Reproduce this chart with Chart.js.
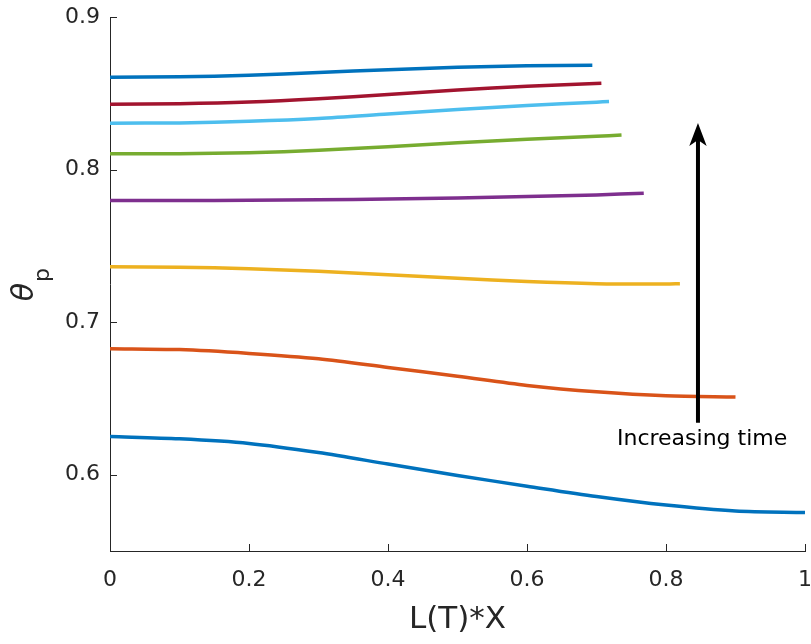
<!DOCTYPE html>
<html>
<head>
<meta charset="utf-8">
<script src="https://cdn.jsdelivr.net/npm/chart.js@4.4.1/dist/chart.umd.min.js"></script>
<style>
    html, body { margin: 0; padding: 0; background: #ffffff; }
    #thetaChart { display: block; }
</style>
</head>
<body>
<canvas id="thetaChart" width="811" height="644"></canvas>
<script>
// Profils de theta_p le long de L(T)*X, un trait par instant
const xTickValues = [0, 0.2, 0.4, 0.6, 0.8, 1];
const yTickValues = [0.6, 0.7, 0.8, 0.9];

const t1X = [0, 0.1, 0.2, 0.3, 0.4, 0.5, 0.6, 0.7, 0.8, 0.9, 1.0];
const t1Y = [0.6250, 0.6235, 0.6205, 0.6145, 0.6070, 0.5995, 0.5925, 0.5857, 0.5801, 0.5762, 0.5752];

const t2X = [0, 0.1, 0.2, 0.3, 0.4, 0.5, 0.6, 0.7, 0.8, 0.9];
const t2Y = [0.6826, 0.6820, 0.6795, 0.6760, 0.6703, 0.6645, 0.6585, 0.6543, 0.6517, 0.6510];

const t3X = [0, 0.1, 0.2, 0.3, 0.4, 0.5, 0.6, 0.7, 0.8, 0.82];
const t3Y = [0.7363, 0.7360, 0.7350, 0.7333, 0.7310, 0.7288, 0.7266, 0.7252, 0.7250, 0.7252];

const t4X = [0, 0.1, 0.2, 0.3, 0.4, 0.5, 0.6, 0.7, 0.768];
const t4Y = [0.7797, 0.7797, 0.7799, 0.7802, 0.7807, 0.7814, 0.7823, 0.7834, 0.7845];

const t5X = [0, 0.1, 0.2, 0.3, 0.4, 0.5, 0.6, 0.7, 0.736];
const t5Y = [0.8103, 0.8104, 0.8111, 0.8126, 0.8150, 0.8175, 0.8198, 0.8218, 0.8227];

const t6X = [0, 0.1, 0.2, 0.3, 0.4, 0.5, 0.6, 0.7, 0.718];
const t6Y = [0.8304, 0.8306, 0.8317, 0.8335, 0.8364, 0.8393, 0.8420, 0.8442, 0.8446];

const t7X = [0, 0.1, 0.2, 0.3, 0.4, 0.5, 0.6, 0.707];
const t7Y = [0.8428, 0.8432, 0.8443, 0.8464, 0.8492, 0.8522, 0.8546, 0.8566];

const t8X = [0, 0.1, 0.2, 0.3, 0.4, 0.5, 0.6, 0.694];
const t8Y = [0.8605, 0.8608, 0.8618, 0.8636, 0.8655, 0.8670, 0.8680, 0.8684];

// Couleurs par defaut de MATLAB (l'ordre repart au bleu pour le 8e trait)
const lineColors = ['#0072BD', '#D95319', '#EDB120', '#7E2F8E', '#77AC30', '#4DBEEE', '#A2142F', '#0072BD'];

// Fleche "Increasing time" en coordonnees des donnees
const arrowX = 0.846;
const arrowFromY = 0.634;
const arrowToY = 0.8306;
const arrowLabel = 'Increasing time';
const arrowLabelPos = { x: 0.852, y: 0.6232 };

const axisColor = '#262626';
const fontFamily = '"DejaVu Sans", Verdana, sans-serif';

const seriesX = [t1X, t2X, t3X, t4X, t5X, t6X, t7X, t8X];
const seriesY = [t1Y, t2Y, t3Y, t4Y, t5Y, t6Y, t7Y, t8Y];

const datasets = seriesX.map((xs, i) => ({
    label: 't' + (i + 1),
    data: xs.map((x, j) => ({ x: x, y: seriesY[i][j] })),
    borderColor: lineColors[i],
    borderWidth: 3.5,
    borderCapStyle: 'butt',
    pointRadius: 0,
    fill: false,
    tension: 0.3
}));

function formatTick(v) {
    return String(Number(v.toFixed(1)));
}

// pas de marge auto pour les libelles qui debordent : la zone de trace reste fixe
function noScalePadding(scale) {
    scale.paddingTop = 0;
    scale.paddingBottom = 0;
    scale.paddingLeft = 0;
    scale.paddingRight = 0;
}

// Graduations tournees vers l'interieur, comme sous MATLAB
const inwardTicks = {
    id: 'inwardTicks',
    afterDatasetsDraw(chart) {
        const { ctx, chartArea, scales } = chart;
        const len = 7;
        ctx.save();
        ctx.strokeStyle = axisColor;
        ctx.lineWidth = 1;
        ctx.beginPath();
        xTickValues.forEach(v => {
            const px = Math.round(scales.x.getPixelForValue(v)) + 0.5;
            ctx.moveTo(px, chartArea.bottom);
            ctx.lineTo(px, chartArea.bottom - len);
        });
        yTickValues.forEach(v => {
            const py = Math.round(scales.y.getPixelForValue(v)) + 0.5;
            ctx.moveTo(chartArea.left, py);
            ctx.lineTo(chartArea.left + len, py);
        });
        ctx.stroke();
        ctx.restore();
    }
};

// Fleche noire et son texte
const timeArrow = {
    id: 'timeArrow',
    afterDatasetsDraw(chart) {
        const { ctx, scales } = chart;
        const x = scales.x.getPixelForValue(arrowX);
        const y0 = scales.y.getPixelForValue(arrowFromY);
        const y1 = scales.y.getPixelForValue(arrowToY);
        const headLen = 23;
        const headHalf = 8.7;
        const notch = 6;
        ctx.save();
        ctx.strokeStyle = '#000000';
        ctx.fillStyle = '#000000';
        ctx.lineWidth = 4;
        ctx.beginPath();
        ctx.moveTo(x, y0);
        ctx.lineTo(x, y1 + headLen - notch);
        ctx.stroke();
        ctx.beginPath();
        ctx.moveTo(x, y1);
        ctx.lineTo(x + headHalf, y1 + headLen);
        ctx.lineTo(x, y1 + headLen - notch);
        ctx.lineTo(x - headHalf, y1 + headLen);
        ctx.closePath();
        ctx.fill();

        ctx.font = '22px ' + fontFamily;
        ctx.textAlign = 'center';
        ctx.textBaseline = 'middle';
        ctx.fillText(arrowLabel,
            scales.x.getPixelForValue(arrowLabelPos.x),
            scales.y.getPixelForValue(arrowLabelPos.y));
        ctx.restore();
    }
};

// Titre de l'axe Y : theta italique avec indice p
const yAxisTitle = {
    id: 'yAxisTitle',
    afterDraw(chart) {
        const { ctx, chartArea } = chart;
        const cy = (chartArea.top + chartArea.bottom) / 2;
        ctx.save();
        ctx.fillStyle = axisColor;
        ctx.textAlign = 'center';
        ctx.textBaseline = 'middle';

        ctx.save();
        ctx.translate(25, cy + 8);
        ctx.rotate(-Math.PI / 2);
        ctx.font = 'italic 30px ' + fontFamily;
        ctx.fillText('\u03B8', 0, 0);
        ctx.restore();

        ctx.save();
        ctx.translate(43, cy - 9);
        ctx.rotate(-Math.PI / 2);
        ctx.font = '22px ' + fontFamily;
        ctx.fillText('p', 0, 0);
        ctx.restore();

        ctx.restore();
    }
};

new Chart(document.getElementById('thetaChart').getContext('2d'), {
    type: 'line',
    data: { datasets: datasets },
    options: {
        responsive: false,
        animation: false,
        devicePixelRatio: 1,
        layout: { padding: { top: 17, right: 6, left: 0, bottom: 0 } },
        plugins: {
            legend: { display: false },
            tooltip: { enabled: false }
        },
        scales: {
            x: {
                type: 'linear',
                min: 0,
                max: 1,
                afterFit(scale) { scale.height = 93; noScalePadding(scale); },
                afterBuildTicks(scale) { scale.ticks = xTickValues.map(v => ({ value: v })); },
                grid: { display: true, drawOnChartArea: false, drawTicks: false },
                border: { display: true, color: axisColor, width: 1 },
                ticks: {
                    color: axisColor,
                    padding: 16,
                    maxRotation: 0,
                    font: { family: fontFamily, size: 22 },
                    callback: v => formatTick(v)
                },
                title: {
                    display: true,
                    text: 'L(T)*X',
                    color: axisColor,
                    font: { family: fontFamily, size: 31 },
                    padding: { top: 0, bottom: 5 }
                }
            },
            y: {
                type: 'linear',
                min: 0.55,
                max: 0.9,
                afterFit(scale) { scale.width = 110; noScalePadding(scale); },
                afterBuildTicks(scale) { scale.ticks = yTickValues.map(v => ({ value: v })); },
                grid: { display: true, drawOnChartArea: false, drawTicks: false },
                border: { display: true, color: axisColor, width: 1 },
                ticks: {
                    color: axisColor,
                    padding: 10,
                    font: { family: fontFamily, size: 22 },
                    callback: v => formatTick(v)
                }
            }
        }
    },
    plugins: [inwardTicks, timeArrow, yAxisTitle]
});
</script>
</body>
</html>
